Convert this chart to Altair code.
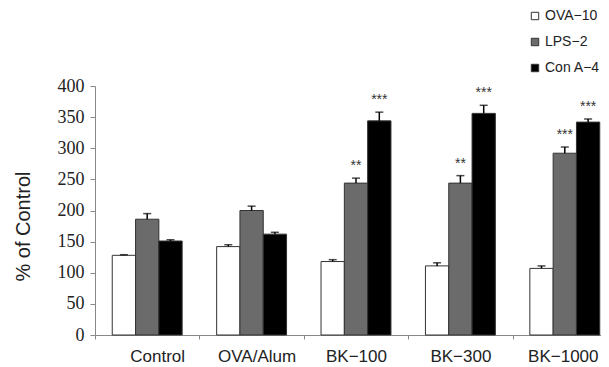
import altair as alt
import pandas as pd

groups = ["Control", "OVA/Alum", "BK−100", "BK−300", "BK−1000"]
series = ["OVA−10", "LPS−2", "Con A−4"]
ova10 = [128, 142, 118, 111, 107]
ova10_err = [1, 3, 3, 5, 4]
lps2 = [186, 200, 244, 244, 292]
lps2_err = [9, 7, 8, 12, 10]
cona4 = [151, 162, 344, 356, 342]
cona4_err = [2, 3, 14, 13, 5]
ova10_sig = ["", "", "", "", ""]
lps2_sig = ["", "", "**", "**", "***"]
cona4_sig = ["", "", "***", "***", "***"]
colors = ["#ffffff", "#6b6b6b", "#000000"]

rows = []
for s, vals, errs, sigs in zip(series, [ova10, lps2, cona4], [ova10_err, lps2_err, cona4_err],
                               [ova10_sig, lps2_sig, cona4_sig]):
    for g, v, e, sg in zip(groups, vals, errs, sigs):
        rows.append({"group": g, "series": s, "value": v, "top": v + e, "sig": sg})
df = pd.DataFrame(rows)

FONT = "Liberation Sans"
NARROW = "Liberation Sans Narrow"

label_shift = {
    "condition": [
        {"test": "datum.value == 'Control'", "value": 10},
        {"test": "datum.value == 'OVA/Alum'", "value": 5},
        {"test": "datum.value == 'BK−1000'", "value": -2},
    ],
    "value": 0,
}

x = alt.X("group:N", sort=groups, title=None,
          scale=alt.Scale(range=[0, 522], paddingInner=0, paddingOuter=0),
          axis=alt.Axis(labelAngle=0, tickBand="extent", domainColor="#888888", tickColor="#888888",
                        tickSize=4, labelPadding=9, labelFont=FONT, labelFontSize=17,
                        labelColor="#222222", labelOffset=label_shift))
xo = alt.XOffset("series:N", sort=series, scale=alt.Scale(paddingOuter=0.74, paddingInner=0))
yscale = alt.Scale(domain=[0, 400], nice=False)
yaxis = alt.Axis(values=list(range(0, 401, 50)), grid=False, domainColor="#888888", tickColor="#888888",
                 tickSize=5, labelFont=NARROW, labelFontSize=18, labelColor="#222222", labelPadding=6,
                 labelOverlap=False, titleFont=FONT, titleFontSize=20, titleFontWeight="normal",
                 titleColor="#222222", titlePadding=24, titleY=140)

base = alt.Chart(df)

bars = base.mark_bar(stroke="#333333", strokeWidth=1).encode(
    x=x, xOffset=xo,
    y=alt.Y("value:Q", scale=yscale, axis=yaxis, title="% of Control"),
    fill=alt.Fill("series:N", sort=series, scale=alt.Scale(domain=series, range=colors),
                  legend=alt.Legend(title=None, orient="none", legendX=433, legendY=-77,
                                    symbolType="square", symbolSize=55, symbolStrokeColor="#333333",
                                    symbolStrokeWidth=1, labelFont=FONT, labelFontSize=14,
                                    labelColor="#222222", rowPadding=12, labelOffset=3)),
)

err = base.mark_rule(color="#000000", strokeWidth=1.5).encode(
    x=x, xOffset=xo, y=alt.Y("value:Q", scale=yscale, axis=yaxis, title="% of Control"), y2="top:Q")
cap = base.mark_tick(color="#000000", thickness=1.5, size=8, orient="horizontal").encode(
    x=x, xOffset=xo, y=alt.Y("top:Q", scale=yscale, axis=yaxis, title="% of Control"))
stars = base.mark_text(font=FONT, fontSize=14, dy=-12, baseline="middle", color="#333333").encode(
    x=x, xOffset=xo, y=alt.Y("top:Q", scale=yscale, axis=yaxis, title="% of Control"), text="sig:N")

chart = alt.layer(bars, err, cap, stars).properties(
    width=506, height=249,
    autosize=alt.AutoSizeParams(type="none"),
    padding={"left": 87, "top": 78, "right": 0, "bottom": 30},
).configure_view(stroke=None)

chart.save("out.html", embed_options={"renderer": "svg", "actions": False})
